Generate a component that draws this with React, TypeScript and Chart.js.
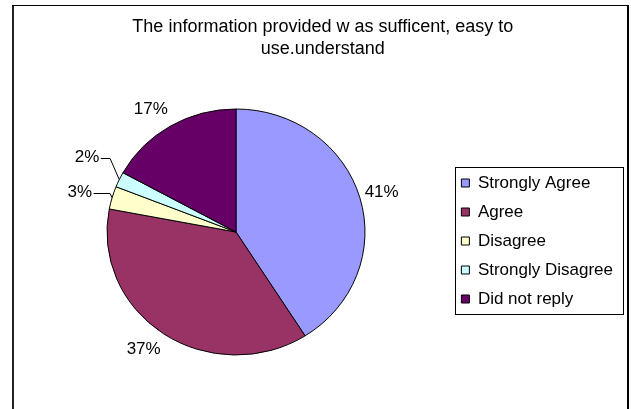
import React, { useEffect, useRef } from 'react';
import { Chart, registerables } from 'chart.js';

Chart.register(...registerables);

const TITLE_LINES = ['The information provided w as sufficent, easy to', 'use.understand'];
const CATEGORIES = ['Strongly Agree', 'Agree', 'Disagree', 'Strongly Disagree', 'Did not reply'];
const VALUES = [41, 37, 3, 2, 17];
const COLORS = ['#9999FF', '#993366', '#FFFFCC', '#CCFFFF', '#660066'];

const FONT = '"Liberation Sans", Arial, Helvetica, sans-serif';
const Y_SCALE = 123 / 129;

const framePlugin = {
  id: 'frame',
  beforeDraw(chart: any) {
    const ctx = chart.ctx;
    ctx.save();
    ctx.fillStyle = '#fff';
    ctx.fillRect(0, 0, chart.width, chart.height);
    ctx.fillStyle = '#222';
    ctx.fillRect(12, 5, 2, chart.height);
    ctx.fillStyle = '#000';
    ctx.fillRect(12, 5, 617, 1);
    ctx.fillRect(627, 5, 2, chart.height);
    ctx.restore();
  },
};

const ellipsePlugin = {
  id: 'ellipse',
  beforeDatasetsDraw(chart: any) {
    const meta = chart.getDatasetMeta(0);
    const arc = meta.data[0];
    const ctx = chart.ctx;
    ctx.save();
    if (arc) {
      ctx.translate(arc.x, arc.y);
      ctx.scale(1, Y_SCALE);
      ctx.translate(-arc.x, -arc.y);
    }
  },
  afterDatasetsDraw(chart: any) {
    chart.ctx.restore();
  },
};

const legendShift = {
  id: 'legendShift',
  afterLayout(chart: any) {
    const lg = chart.legend;
    if (lg) {
      lg.top += 9;
      lg.bottom += 9;
    }
  },
};

const legendBorder = {
  id: 'legendBorder',
  afterDraw(chart: any) {
    const lg = chart.legend;
    if (!lg || !lg.legendHitBoxes || !lg.legendHitBoxes.length) return;
    const hb = lg.legendHitBoxes;
    const last = hb[hb.length - 1];
    const left = hb[0].left - 6;
    const top = hb[0].top - 7.5;
    const bottom = last.top + last.height + 6.5;
    const right = lg.right;
    const ctx = chart.ctx;
    ctx.save();
    ctx.strokeStyle = '#000';
    ctx.lineWidth = 1;
    ctx.strokeRect(Math.round(left) + 0.5, Math.round(top) + 0.5, Math.round(right - left), Math.round(bottom - top));
    ctx.restore();
  },
};

const labelPlugin = {
  id: 'pctLabels',
  afterDraw(chart: any) {
    const ctx = chart.ctx;
    const meta = chart.getDatasetMeta(0);
    const data = chart.data.datasets[0].data as number[];
    const total = data.reduce((a, b) => a + b, 0);
    ctx.save();
    ctx.font = `17px ${FONT}`;
    ctx.fillStyle = '#000';
    ctx.textBaseline = 'middle';
    const small: any[] = [];
    meta.data.forEach((el: any, i: number) => {
      const { x, y, startAngle, endAngle, outerRadius } = el.getProps(['x', 'y', 'startAngle', 'endAngle', 'outerRadius'], true);
      const mid = (startAngle + endAngle) / 2;
      const c = Math.cos(mid);
      const s = Math.sin(mid);
      const ex = x + outerRadius * c;
      const ey = y + outerRadius * Y_SCALE * s;
      const pct = Math.round((data[i] / total) * 100);
      const text = pct + '%';
      const w = ctx.measureText(text).width;
      if (pct >= 5) {
        const ax = ex + 5 * c;
        const ay = ey + 13 * s;
        const tx = ax + (w / 2) * Math.sign(c) * Math.min(1, 2 * Math.abs(c));
        const ty = ay + 6 * s;
        ctx.textAlign = 'center';
        ctx.fillText(text, tx, ty);
      } else {
        small.push({ ex, ey, text });
      }
    });
    if (small.length) {
      small.sort((a, b) => b.ey - a.ey);
      const elbowX = Math.min(...small.map((d) => d.ex)) - 2;
      let prevY = Infinity;
      small.forEach((d) => {
        const ly = Math.min(d.ey - 5, prevY - 35);
        prevY = ly;
        const tr = d.ex - 20;
        ctx.textAlign = 'right';
        ctx.fillText(d.text, tr, ly);
        const yy = Math.round(ly) + 0.5;
        ctx.beginPath();
        ctx.moveTo(tr + 1.5, yy);
        ctx.lineTo(elbowX, yy);
        ctx.lineTo(d.ex, d.ey);
        ctx.strokeStyle = '#000';
        ctx.lineWidth = 1;
        ctx.stroke();
      });
    }
    ctx.restore();
  },
};

export default function App() {
  const ref = useRef<HTMLCanvasElement>(null);
  useEffect(() => {
    const canvas = ref.current;
    if (!canvas) return;
    const chart = new Chart(canvas, {
      type: 'pie',
      data: {
        labels: CATEGORIES,
        datasets: [
          {
            data: VALUES,
            backgroundColor: COLORS,
            borderColor: '#000',
            borderWidth: 1,
            hoverOffset: 0,
            radius: 129,
          } as any,
        ],
      },
      options: {
        responsive: false,
        animation: false,
        devicePixelRatio: 1,
        events: [],
        layout: { padding: { left: 22.6, right: 8, top: 4, bottom: 33 } },
        plugins: {
          title: {
            display: true,
            text: TITLE_LINES,
            color: '#000',
            font: { family: FONT, size: 18, weight: 'normal', lineHeight: 22 / 18 },
            padding: { top: 12, bottom: 28 },
          },
          legend: {
            display: true,
            position: 'right',
            align: 'center',
            fullSize: false,
            labels: {
              boxWidth: 8,
              boxHeight: 8,
              padding: 12,
              color: '#000',
              font: { family: FONT, size: 17 },
            },
          },
          tooltip: { enabled: false },
        },
      } as any,
      plugins: [framePlugin, ellipsePlugin, legendShift, legendBorder, labelPlugin],
    });
    return () => chart.destroy();
  }, []);
  return (
    <div style={{ position: 'absolute', left: 0, top: 0, width: 631, height: 409, background: '#fff' }}>
      <canvas ref={ref} width={631} height={409} style={{ display: 'block' }} />
    </div>
  );
}
